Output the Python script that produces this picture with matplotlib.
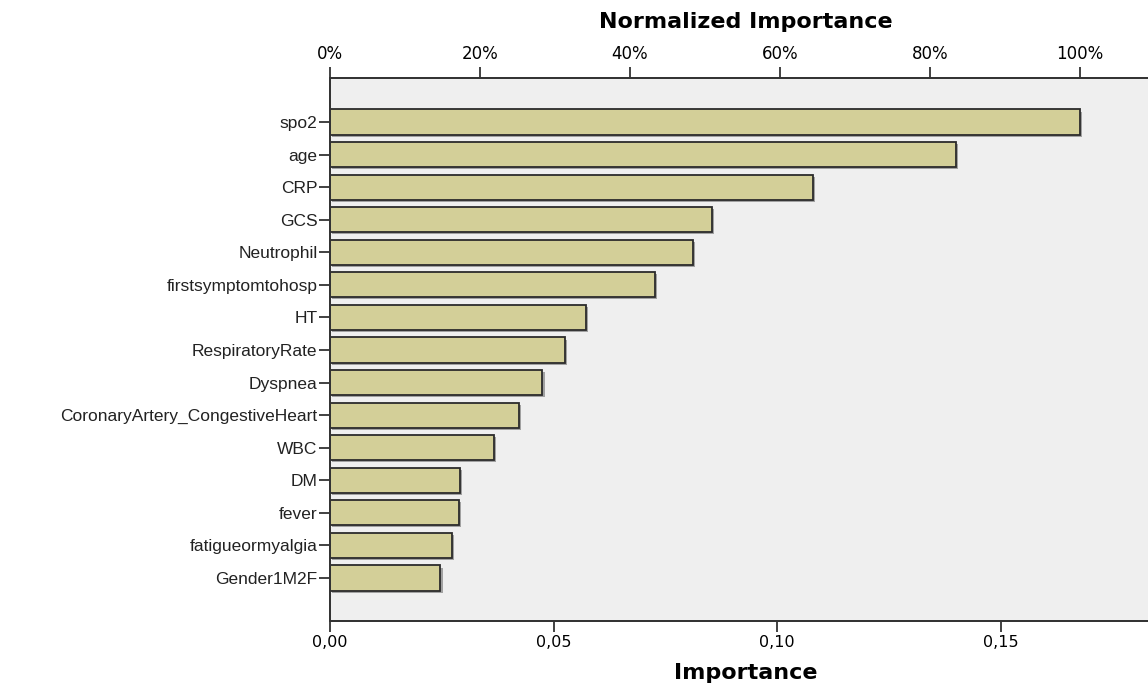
import numpy as np
import matplotlib
matplotlib.use("Agg")
import matplotlib.pyplot as plt
import matplotlib.patheffects as pe
from matplotlib.ticker import FuncFormatter

# predictor importance
features = ["spo2", "age", "CRP", "GCS", "Neutrophil", "firstsymptomtohosp", "HT",
            "RespiratoryRate", "Dyspnea", "CoronaryArtery_CongestiveHeart", "WBC",
            "DM", "fever", "fatigueormyalgia", "Gender1M2F"]
importance = [0.1677, 0.1399, 0.1080, 0.0855, 0.0811, 0.0727, 0.0572,
              0.0526, 0.0475, 0.0423, 0.0367, 0.0290, 0.0289, 0.0273, 0.0247]
bottom_ticks = [0.0, 0.05, 0.10, 0.15]
top_ticks = [0, 20, 40, 60, 80, 100]

xmax = 0.1829
bar_color = "#d3cf98"
edge = "#2b2b2b"
bg = "#efefef"

fig = plt.figure(figsize=(11.48, 6.84), dpi=100)
ax = fig.add_axes([330 / 1148, 63 / 684, 818 / 1148, 543 / 684])
ax.set_facecolor(bg)

y = np.arange(len(features))
bars = ax.barh(y, importance, height=0.77, color=bar_color, edgecolor=edge, linewidth=1.3)
for b in bars:
    b.set_path_effects([pe.SimplePatchShadow(offset=(1.5, -1.5), shadow_rgbFace="#555555", alpha=0.5),
                        pe.Normal()])

ax.set_xlim(0, xmax)
ax.set_ylim(len(features) - 1 + 1.32, -1.35)
ax.set_yticks(y)
ax.set_yticklabels(features, fontfamily="Liberation Sans", fontsize=12.5, color="#222222")
ax.set_xticks(bottom_ticks)
ax.xaxis.set_major_formatter(FuncFormatter(lambda v, p: f"{v:.2f}".replace(".", ",")))
ax.tick_params(axis="x", length=8, width=1.3, labelsize=11.5, pad=2, color="#333333")
ax.tick_params(axis="y", length=8, width=1.3, pad=1, color="#333333")

for side in ["left", "bottom", "top"]:
    ax.spines[side].set_color("#333333")
    ax.spines[side].set_linewidth(1.3)
ax.spines["right"].set_visible(False)

# top axis: normalized importance in percent
top = ax.twiny()
top.set_xlim(0, xmax / max(importance) * 100)
top.set_xticks(top_ticks)
top.set_xticklabels([f"{t}%" for t in top_ticks], fontsize=12)
top.tick_params(axis="x", length=8, width=1.3, pad=3, color="#333333")
for side in ["left", "bottom", "top"]:
    top.spines[side].set_color("#333333")
    top.spines[side].set_linewidth(1.3)
top.spines["right"].set_visible(False)

fig.text(746 / 1148, 1 - 22 / 684, "Normalized Importance", ha="center", va="center",
         fontsize=16, fontweight="bold")
fig.text(746 / 1148, 1 - 673 / 684, "Importance", ha="center", va="center",
         fontsize=16, fontweight="bold")

fig.savefig("out.png", dpi=100)
